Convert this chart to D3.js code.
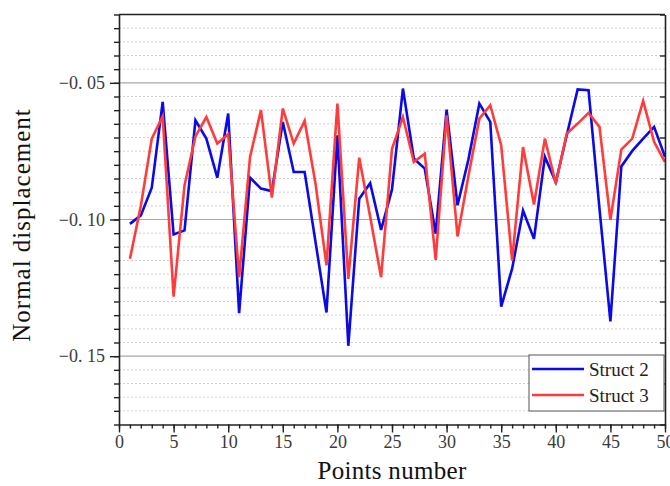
<!DOCTYPE html>
<html>
<head>
<meta charset="utf-8">
<script src="https://cdn.jsdelivr.net/npm/d3@7"></script>
<style>
  body { margin: 0; background: #fff; }
  svg { display: block; font-family: "Liberation Serif", "DejaVu Serif", serif; }
</style>
</head>
<body>
<script>
// x positions (points 1..50)
const points = d3.range(1, 51);

const struct2 = [
  -0.1016, -0.0985, -0.0884, -0.0570, -0.1055, -0.1040, -0.0637, -0.0704, -0.0847, -0.0612,
  -0.1343, -0.0847, -0.0887, -0.0896, -0.0643, -0.0826, -0.0826, -0.1083, -0.1340, -0.0692,
  -0.1462, -0.0924, -0.0867, -0.1038, -0.0890, -0.0521, -0.0777, -0.0814, -0.1052, -0.0598,
  -0.0948, -0.0780, -0.0576, -0.0643, -0.1319, -0.1180, -0.0967, -0.1071, -0.0771, -0.0863,
  -0.0692, -0.0524, -0.0527, -0.0960, -0.1373, -0.0806, -0.0749, -0.0704, -0.0661, -0.0771
];

const struct3 = [
  -0.1144, -0.0950, -0.0704, -0.0622, -0.1282, -0.0875, -0.0696, -0.0625, -0.0722, -0.0688,
  -0.1211, -0.0771, -0.0600, -0.0920, -0.0594, -0.0722, -0.0639, -0.0870, -0.1168, -0.0576,
  -0.1217, -0.0774, -0.0990, -0.1211, -0.0741, -0.0625, -0.0790, -0.0759, -0.1148, -0.0619,
  -0.1062, -0.0840, -0.0631, -0.0582, -0.0729, -0.1150, -0.0735, -0.0945, -0.0704, -0.0869,
  -0.0686, -0.0649, -0.0610, -0.0661, -0.1001, -0.0744, -0.0704, -0.0566, -0.0716, -0.0790
];

const series = [
  {name: "Struct 2", values: struct2, color: "#0a0ae6"},
  {name: "Struct 3", values: struct3, color: "#ff3b3b"}
];

const xTicks = d3.range(0, 51, 5);
const yTicks = [-0.05, -0.10, -0.15];

const width = 670, height = 486;
const marginTop = 14.5, marginRight = 5, marginBottom = 61.5, marginLeft = 119;

const x = d3.scaleLinear([0, 50], [marginLeft, width - marginRight]);
const y = d3.scaleLinear([-0.175, -0.025], [height - marginBottom, marginTop]);

const svg = d3.select("body").append("svg")
    .attr("width", width)
    .attr("height", height)
    .attr("viewBox", [0, 0, width, height]);

// minor dotted grid every 0.005
const minorY = d3.range(-0.17, -0.025, 0.005).map(v => +v.toFixed(3))
    .filter(v => !yTicks.some(t => Math.abs(t - v) < 1e-6));

svg.append("g")
  .selectAll("line")
  .data(minorY)
  .join("line")
    .attr("x1", marginLeft).attr("x2", width - marginRight)
    .attr("y1", d => y(d)).attr("y2", d => y(d))
    .attr("stroke", "#cfcfcf")
    .attr("stroke-width", 1)
    .attr("stroke-dasharray", "2,2");

// major solid grid
svg.append("g")
  .selectAll("line")
  .data(yTicks)
  .join("line")
    .attr("x1", marginLeft).attr("x2", width - marginRight)
    .attr("y1", d => y(d)).attr("y2", d => y(d))
    .attr("stroke", "#a8a8a8")
    .attr("stroke-width", 1.2);

// lines
const clip = svg.append("clipPath").attr("id", "clip")
  .append("rect")
    .attr("x", marginLeft).attr("y", marginTop)
    .attr("width", width - marginLeft - marginRight)
    .attr("height", height - marginTop - marginBottom);

const line = d3.line()
    .x((d, i) => x(points[i]))
    .y(d => y(d));

svg.append("g")
    .attr("clip-path", "url(#clip)")
  .selectAll("path")
  .data(series)
  .join("path")
    .attr("fill", "none")
    .attr("stroke", d => d.color)
    .attr("stroke-width", 2.6)
    .attr("stroke-linejoin", "miter")
    .attr("d", d => line(d.values));

// frame
svg.append("line")
    .attr("x1", marginLeft).attr("x2", width - marginRight)
    .attr("y1", marginTop).attr("y2", marginTop)
    .attr("stroke", "#222").attr("stroke-width", 1.5);

// bottom axis
const xAxis = svg.append("g")
    .attr("transform", `translate(0,${height - marginBottom})`);
xAxis.call(d3.axisBottom(x).tickValues(d3.range(0, 51, 1)).tickSize(4).tickFormat(""))
    .call(g => g.select(".domain").remove());
xAxis.append("g")
    .call(d3.axisBottom(x).tickValues(xTicks).tickSize(8).tickSizeOuter(0).tickPadding(3))
    .call(g => g.selectAll("text")
        .attr("font-size", 18)
        .attr("font-family", "Liberation Serif")
        .attr("fill", "#3a3a3a"));
xAxis.selectAll("line").attr("stroke", "#222").attr("stroke-width", 1.4);
xAxis.select(".domain").attr("stroke", "#222").attr("stroke-width", 1.6);

// left axis
const yAxis = svg.append("g")
    .attr("transform", `translate(${marginLeft},0)`);
yAxis.call(d3.axisLeft(y).tickValues(d3.range(-0.175, -0.0249, 0.005)).tickSize(5).tickFormat(""))
    .call(g => g.select(".domain").remove());
yAxis.append("g")
    .call(d3.axisLeft(y).tickValues(yTicks).tickSize(9).tickSizeOuter(0).tickPadding(5)
        .tickFormat(d => "−0. " + d3.format(".2f")(-d).slice(2)))
    .call(g => g.selectAll("text")
        .attr("font-size", 18)
        .attr("font-family", "Liberation Serif")
        .attr("fill", "#3a3a3a"));
yAxis.selectAll("line").attr("stroke", "#222").attr("stroke-width", 1.4);
yAxis.select(".domain").attr("stroke", "#222").attr("stroke-width", 1.6);

// right axis, inward ticks
const rAxis = svg.append("g")
    .attr("transform", `translate(${width - marginRight},0)`);
rAxis.call(d3.axisLeft(y).tickValues(d3.range(-0.175, -0.0249, 0.015)).tickSize(5).tickSizeOuter(0).tickFormat(""));
rAxis.selectAll("line").attr("stroke", "#222").attr("stroke-width", 1.4);
rAxis.select(".domain").attr("stroke", "#222").attr("stroke-width", 1.6);

// axis titles
svg.append("text")
    .attr("x", (marginLeft + width - marginRight) / 2)
    .attr("y", 479)
    .attr("text-anchor", "middle")
    .attr("font-size", 25)
    .attr("letter-spacing", 0.3)
    .attr("fill", "#111")
    .text("Points number");

svg.append("text")
    .attr("transform", `translate(30,225) rotate(-90)`)
    .attr("text-anchor", "middle")
    .attr("font-size", 25)
    .attr("letter-spacing", 1)
    .attr("fill", "#111")
    .text("Normal displacement");

// legend
const legend = svg.append("g");
legend.append("rect")
    .attr("x", 529).attr("y", 355)
    .attr("width", 135).attr("height", 56)
    .attr("fill", "#fff")
    .attr("stroke", "#555")
    .attr("stroke-width", 1);

legend.selectAll("g")
  .data(series)
  .join("g")
    .attr("transform", (d, i) => `translate(0,${369 + i * 26})`)
    .call(g => g.append("line")
        .attr("x1", 532).attr("x2", 584)
        .attr("stroke", d => d.color)
        .attr("stroke-width", 2.6))
    .call(g => g.append("text")
        .attr("x", 589)
        .attr("y", 6.5)
        .attr("font-size", 19)
        .attr("fill", "#222")
        .text(d => d.name));
</script>
</body>
</html>
